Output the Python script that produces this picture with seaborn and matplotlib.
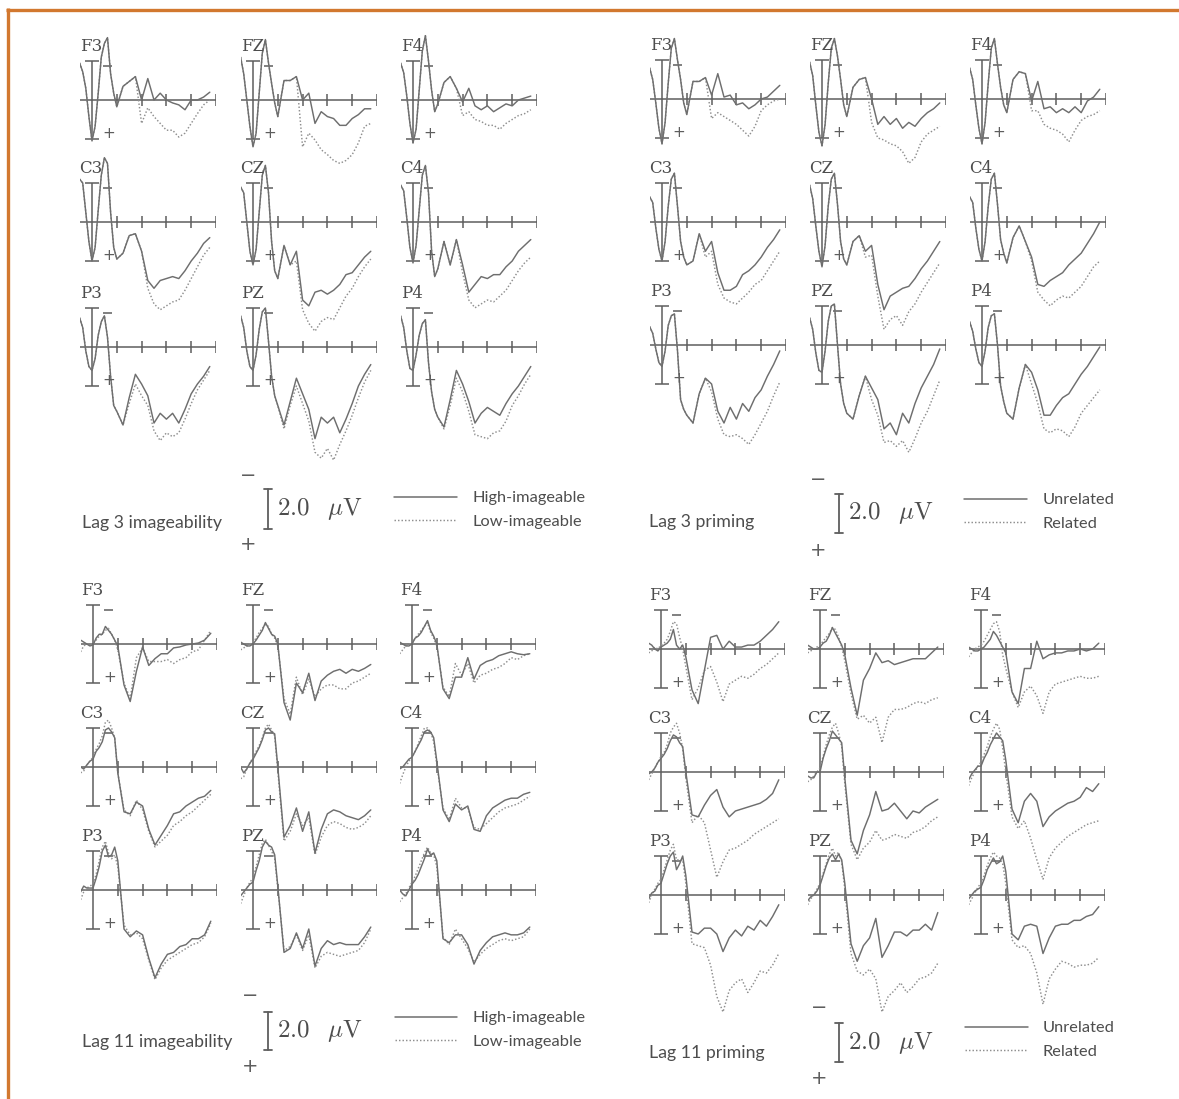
import matplotlib
matplotlib.use('Agg')
import matplotlib.pyplot as plt
import seaborn as sns

sns.set_style('white')
plt.rcParams['font.family'] = ['DejaVu Sans']
plt.rcParams['mathtext.fontset'] = 'cm'

# =====================
# Data (uV, negative plotted up), sampled at these times (ms)
# =====================
times = [-100, -75, -50, -25, 0, 25, 50, 75, 100, 125, 150, 175, 200,
         250, 300, 350, 400, 450, 500, 550, 600, 650, 700, 750, 800, 850, 900, 950]
electrodes = ['F3', 'FZ', 'F4', 'C3', 'CZ', 'C4', 'P3', 'PZ', 'P4']

lag3_img_high = {
    'F3': [-1.9, -1.45, -0.6, 0.85, 2.1, 1.35, -0.35, -2.2, -2.9, -3.2, -1.35, -0.35, 0.35,
           -0.7, -0.95, -1.2, 0.0, -1.1, 0.0, -0.35, 0.0, 0.15, 0.25, 0.5, 0.0, 0.0, -0.15, -0.4],
    'FZ': [-2.2, -1.35, 0.0, 1.35, 2.4, 1.7, -0.35, -2.4, -3.1, -1.9, -0.85, 0.15, 0.85,
           -1.0, -1.0, -1.2, 0.0, -0.35, 1.2, 0.6, 0.85, 0.95, 1.3, 1.3, 0.95, 0.75, 0.45, 0.45],
    'F4': [-1.9, -1.4, -0.2, 1.2, 2.2, 1.5, -0.5, -2.5, -3.3, -2.0, -0.5, 0.6, 0.2,
           -0.9, -1.2, -0.6, 0.1, -0.6, 0.3, 0.5, 0.3, 0.6, 0.4, 0.2, 0.3, 0.0, -0.1, -0.2],
    'C3': [-2.2, -2.0, -0.5, 1.0, 2.0, 1.3, -0.6, -2.4, -3.3, -3.0, -0.5, 1.3, 1.9,
           1.6, 0.7, 0.6, 1.5, 3.0, 3.4, 3.0, 2.9, 2.8, 2.9, 2.5, 2.0, 1.6, 1.1, 0.8],
    'CZ': [-1.8, -1.5, 0.0, 1.5, 2.2, 1.4, -0.5, -2.4, -2.9, -1.5, 1.0, 2.5, 2.9,
           1.2, 2.2, 1.5, 4.0, 4.3, 3.6, 3.5, 3.7, 3.5, 3.2, 2.7, 2.6, 2.2, 1.8, 1.5],
    'C4': [-1.9, -1.6, -0.2, 1.3, 2.1, 1.2, -0.6, -2.4, -2.9, -1.5, 1.5, 2.8, 2.4,
           1.0, 2.2, 0.9, 2.2, 3.6, 3.2, 2.8, 2.9, 2.7, 2.7, 2.3, 2.0, 1.5, 1.2, 0.9],
    'P3': [-1.5, -1.0, 0.2, 1.0, 1.2, 0.6, -0.6, -1.3, -1.6, -0.5, 1.5, 3.0, 3.3,
           4.0, 2.6, 1.4, 1.9, 2.5, 3.9, 3.4, 3.7, 3.4, 3.9, 3.2, 2.4, 1.9, 1.5, 1.0],
    'PZ': [-1.6, -1.0, 0.2, 1.0, 1.2, 0.4, -0.9, -1.8, -2.0, -0.3, 1.5, 2.5, 3.0,
           4.0, 2.8, 1.6, 2.4, 3.2, 4.7, 3.6, 3.9, 3.6, 4.4, 3.7, 2.9, 2.0, 1.4, 0.9],
    'P4': [-1.6, -1.0, 0.2, 1.1, 1.2, 0.4, -0.6, -1.2, -1.4, 0.8, 2.3, 3.2, 3.6,
           4.1, 2.7, 1.2, 1.9, 2.8, 3.9, 3.4, 3.1, 3.3, 3.5, 2.9, 2.4, 2.0, 1.5, 1.0],
}
lag3_img_low = {
    'F3': [-1.9, -1.45, -0.6, 0.85, 2.1, 1.35, -0.35, -2.2, -2.9, -3.2, -1.35, -0.35, 0.35,
           -0.7, -0.95, -1.2, 1.2, 0.4, 0.85, 1.2, 1.55, 1.55, 1.9, 1.7, 1.2, 0.7, 0.25, 0.0],
    'FZ': [-2.2, -1.35, 0.0, 1.35, 2.4, 1.7, -0.35, -2.4, -3.1, -1.9, -0.85, 0.15, 0.85,
           -1.0, -1.0, -1.2, 2.4, 1.7, 2.05, 2.55, 2.8, 3.1, 3.25, 3.1, 2.8, 2.2, 1.35, 1.2],
    'F4': [-1.9, -1.4, -0.2, 1.2, 2.2, 1.5, -0.5, -2.5, -3.3, -2.0, -0.5, 0.6, 0.2,
           -0.9, -1.2, -0.6, 0.8, 0.6, 1.0, 1.1, 1.3, 1.3, 1.5, 1.2, 1.0, 0.8, 0.7, 0.5],
    'C3': [-2.2, -2.0, -0.5, 1.0, 2.0, 1.3, -0.6, -2.4, -3.3, -3.0, -0.5, 1.3, 1.9,
           1.6, 0.7, 0.6, 1.5, 3.4, 4.2, 4.5, 4.3, 4.1, 4.0, 3.5, 2.9, 2.3, 1.7, 1.3],
    'CZ': [-1.8, -1.5, 0.0, 1.5, 2.2, 1.4, -0.5, -2.4, -2.9, -1.5, 1.0, 2.5, 2.9,
           1.2, 2.2, 2.0, 4.5, 5.2, 5.6, 5.1, 4.9, 5.0, 4.4, 3.8, 3.4, 2.8, 2.3, 1.9],
    'C4': [-1.9, -1.6, -0.2, 1.3, 2.1, 1.2, -0.6, -2.4, -2.9, -1.5, 1.5, 2.8, 2.4,
           1.0, 2.2, 0.9, 2.6, 4.0, 4.4, 4.2, 4.0, 4.1, 3.8, 3.5, 3.0, 2.5, 2.1, 1.8],
    'P3': [-1.5, -1.0, 0.2, 1.0, 1.2, 0.6, -0.6, -1.3, -1.6, -0.5, 1.5, 3.0, 3.3,
           4.0, 2.9, 1.9, 2.5, 3.0, 4.3, 4.8, 4.4, 4.6, 4.4, 3.7, 2.9, 2.2, 1.7, 1.2],
    'PZ': [-1.6, -1.0, 0.2, 1.0, 1.2, 0.4, -0.9, -1.8, -2.0, -0.3, 1.5, 2.5, 3.0,
           4.2, 3.0, 2.0, 2.9, 3.8, 5.4, 5.7, 5.2, 5.8, 5.0, 4.3, 3.5, 2.6, 1.8, 1.2],
    'P4': [-1.6, -1.0, 0.2, 1.1, 1.2, 0.4, -0.6, -1.2, -1.4, 0.8, 2.3, 3.2, 3.6,
           4.2, 3.0, 1.6, 2.3, 3.3, 4.5, 4.6, 4.7, 4.4, 4.3, 3.8, 3.0, 2.5, 1.9, 1.4],
}

lag3_prime_unrel = {
    'F3': [-1.6, -1.0, 0.2, 1.5, 2.3, 1.2, -0.8, -2.6, -3.1, -2.0, -1.0, 0.2, 0.8,
           -0.9, -0.9, -1.1, -0.2, -1.3, -0.1, -0.2, 0.3, 0.2, 0.5, 0.3, 0.0, -0.1, -0.4, -0.7],
    'FZ': [-1.9, -1.2, 0.3, 1.7, 2.4, 1.3, -0.8, -2.6, -3.1, -2.2, -1.0, 0.3, 0.9,
           -0.6, -1.0, -1.1, 0.0, 1.3, 0.9, 1.3, 1.0, 1.5, 1.2, 1.4, 1.0, 0.7, 0.5, 0.2],
    'F4': [-1.6, -1.0, 0.3, 1.5, 2.3, 1.2, -0.8, -2.6, -3.1, -1.8, -0.6, 0.3, 0.7,
           -1.0, -1.4, -1.3, 0.1, -0.9, 0.5, 0.4, 0.7, 0.5, 0.7, 0.4, 0.7, 0.1, -0.1, -0.5],
    'C3': [-1.3, -1.0, 0.3, 1.4, 2.0, 1.0, -0.8, -2.2, -2.5, -0.8, 1.0, 1.8, 2.2,
           2.0, 0.6, 1.5, 1.0, 2.6, 3.5, 3.5, 3.3, 2.7, 2.5, 2.2, 1.8, 1.3, 0.9, 0.4],
    'CZ': [-1.9, -1.2, 0.2, 1.5, 2.3, 1.2, -0.8, -2.2, -2.5, -0.9, 1.0, 1.9, 2.2,
           1.0, 0.7, 1.5, 1.2, 3.2, 4.5, 3.8, 3.6, 3.4, 3.3, 2.9, 2.4, 2.0, 1.5, 1.0],
    'C4': [-1.3, -1.0, 0.3, 1.4, 2.0, 1.0, -0.8, -2.2, -2.5, -0.9, 0.9, 1.6, 2.1,
           0.8, 0.2, 1.0, 1.8, 3.2, 3.3, 3.0, 2.8, 2.6, 2.2, 1.9, 1.6, 1.1, 0.6, 0.0],
    'P3': [-0.95, -0.6, 0.2, 0.9, 1.1, 0.3, -1.0, -1.5, -1.6, 0.3, 2.8, 3.3, 3.6,
           4.0, 2.5, 1.7, 2.0, 3.4, 4.0, 3.2, 3.8, 3.0, 3.4, 2.7, 2.3, 1.6, 1.0, 0.3],
    'PZ': [-1.4, -0.8, 0.4, 1.3, 1.4, 0.3, -1.2, -2.0, -2.1, 0.0, 2.0, 3.0, 3.5,
           3.8, 2.6, 1.6, 2.2, 2.8, 4.3, 4.0, 4.6, 3.5, 4.0, 3.0, 2.2, 1.6, 1.0, 0.2],
    'P4': [-1.2, -0.7, 0.2, 0.9, 1.1, 0.3, -0.9, -1.5, -1.6, 0.0, 2.1, 2.9, 3.5,
           3.8, 2.2, 1.0, 1.4, 2.3, 3.6, 3.6, 3.1, 2.7, 2.5, 2.0, 1.5, 1.1, 0.6, 0.1],
}
lag3_prime_rel = {
    'F3': [-1.6, -1.0, 0.2, 1.5, 2.3, 1.2, -0.8, -2.6, -3.1, -2.0, -1.0, 0.2, 0.8,
           -0.9, -0.9, -1.1, 1.0, 0.7, 0.9, 1.1, 1.3, 1.6, 1.9, 1.4, 0.6, 0.3, 0.1, 0.0],
    'FZ': [-1.9, -1.2, 0.3, 1.7, 2.4, 1.3, -0.8, -2.6, -3.1, -2.2, -1.0, 0.3, 0.9,
           -0.6, -1.0, -1.1, 1.2, 2.0, 2.1, 2.3, 2.4, 2.7, 3.3, 3.0, 2.2, 1.8, 1.6, 1.4],
    'F4': [-1.6, -1.0, 0.3, 1.5, 2.3, 1.2, -0.8, -2.6, -3.1, -1.8, -0.6, 0.3, 0.7,
           -1.0, -1.4, -1.3, 0.6, 0.6, 1.3, 1.5, 1.6, 1.8, 2.2, 1.6, 1.1, 0.9, 0.8, 0.6],
    'C3': [-1.3, -1.0, 0.3, 1.4, 2.0, 1.0, -0.8, -2.2, -2.5, -0.8, 1.0, 1.8, 2.2,
           2.0, 0.6, 1.8, 1.5, 3.2, 3.9, 4.1, 4.2, 3.9, 3.6, 3.2, 3.0, 2.5, 2.0, 1.5],
    'CZ': [-1.9, -1.2, 0.2, 1.5, 2.3, 1.2, -0.8, -2.2, -2.5, -0.9, 1.0, 1.9, 2.2,
           1.0, 0.7, 1.8, 1.7, 3.8, 5.5, 5.0, 4.8, 5.3, 4.6, 4.2, 3.6, 3.1, 2.6, 2.1],
    'C4': [-1.3, -1.0, 0.3, 1.4, 2.0, 1.0, -0.8, -2.2, -2.5, -0.9, 0.9, 1.6, 2.1,
           0.8, 0.2, 1.0, 2.0, 3.6, 4.0, 4.3, 4.0, 3.8, 3.9, 3.6, 3.3, 2.8, 2.3, 2.0],
    'P3': [-0.95, -0.6, 0.2, 0.9, 1.1, 0.3, -1.0, -1.5, -1.6, 0.3, 2.8, 3.3, 3.6,
           4.0, 2.5, 1.7, 2.4, 3.8, 4.6, 4.7, 4.6, 4.8, 5.1, 4.6, 4.0, 3.4, 2.6, 1.9],
    'PZ': [-1.4, -0.8, 0.4, 1.3, 1.4, 0.3, -1.2, -2.0, -2.1, 0.0, 2.0, 3.0, 3.5,
           3.8, 2.6, 1.6, 2.8, 3.6, 5.0, 4.9, 5.2, 4.9, 5.5, 4.8, 4.0, 3.4, 2.6, 1.8],
    'P4': [-1.2, -0.7, 0.2, 0.9, 1.1, 0.3, -0.9, -1.5, -1.6, 0.0, 2.1, 2.9, 3.5,
           3.8, 2.2, 1.0, 2.0, 3.0, 4.3, 4.5, 4.3, 4.4, 4.7, 4.2, 3.5, 3.1, 2.7, 2.3],
}

lag11_img_high = {
    'F3': [-0.2, -0.1, 0.0, 0.1, 0.05, -0.3, -0.5, -0.5, -0.9, -0.7, -0.5, -0.2, 0.1,
           2.1, 2.95, 1.4, 0.15, 1.1, 0.75, 0.5, 0.5, 0.2, 0.15, 0.05, 0.0, -0.05, -0.2, -0.55],
    'FZ': [-0.1, 0.0, 0.1, 0.1, 0.0, -0.2, -0.45, -0.7, -1.1, -0.8, -0.5, -0.4, 0.0,
           3.0, 3.9, 2.0, 2.5, 1.5, 2.9, 1.9, 1.6, 1.4, 1.3, 1.5, 1.3, 1.4, 1.25, 1.05],
    'F4': [-0.1, 0.0, 0.1, 0.1, 0.0, -0.3, -0.4, -0.6, -0.9, -1.2, -0.7, -0.4, 0.0,
           2.3, 2.8, 1.7, 1.7, 0.7, 1.8, 1.1, 0.9, 0.8, 0.6, 0.5, 0.4, 0.5, 0.55, 0.5],
    'C3': [0.0, 0.1, -0.1, -0.3, -0.4, -0.8, -1.0, -1.3, -1.9, -2.0, -1.8, -1.5, 0.3,
           2.3, 2.4, 1.8, 2.0, 3.2, 4.0, 3.5, 3.0, 2.4, 2.3, 2.0, 1.8, 1.6, 1.5, 1.2],
    'CZ': [0.0, 0.3, 0.1, -0.2, -0.4, -0.7, -1.0, -1.4, -1.9, -2.0, -1.8, -1.7, 0.0,
           3.6, 3.0, 2.1, 3.3, 2.3, 4.4, 3.2, 2.4, 2.2, 2.3, 2.5, 2.6, 2.7, 2.5, 2.2],
    'C4': [0.1, 0.0, -0.2, -0.4, -0.5, -0.8, -1.1, -1.4, -1.8, -1.9, -1.8, -1.5, -0.3,
           2.2, 2.8, 1.9, 2.2, 2.0, 3.2, 3.3, 2.5, 2.1, 1.9, 1.7, 1.6, 1.6, 1.4, 1.3],
    'P3': [0.1, -0.2, -0.1, -0.1, -0.1, -0.6, -1.2, -2.0, -2.3, -1.7, -1.8, -2.2, -1.5,
           2.0, 2.4, 2.1, 2.3, 3.5, 4.5, 3.8, 3.3, 3.2, 2.9, 2.8, 2.5, 2.5, 2.3, 1.6],
    'PZ': [0.3, 0.1, -0.1, -0.3, -0.4, -1.0, -1.5, -2.2, -2.5, -2.3, -2.2, -1.8, -0.2,
           3.2, 3.0, 2.2, 3.0, 2.0, 3.9, 3.0, 2.6, 2.8, 2.7, 2.8, 2.8, 2.8, 2.4, 1.9],
    'P4': [0.0, 0.2, 0.3, 0.0, -0.3, -0.5, -0.8, -1.2, -1.6, -2.1, -1.8, -1.9, -1.5,
           2.5, 2.7, 2.3, 2.3, 2.8, 3.8, 3.1, 2.7, 2.4, 2.3, 2.2, 2.3, 2.3, 2.2, 1.9],
}
lag11_img_low = {
    'F3': [0.4, 0.1, 0.0, 0.0, 0.0, -0.2, -0.4, -0.5, -0.7, -0.8, -0.5, -0.2, 0.3,
           2.0, 2.8, 0.7, 0.2, 0.9, 0.9, 0.9, 0.8, 1.0, 0.8, 0.7, 0.4, 0.3, -0.2, -0.7],
    'FZ': [0.3, 0.2, 0.1, 0.0, -0.1, -0.3, -0.6, -0.8, -1.0, -0.9, -0.5, -0.3, 0.1,
           2.8, 3.6, 1.7, 2.6, 1.8, 2.7, 2.3, 2.1, 2.1, 2.3, 2.3, 2.0, 1.9, 1.7, 1.5],
    'F4': [0.5, 0.3, 0.1, 0.0, 0.0, -0.3, -0.5, -0.7, -0.9, -1.1, -0.6, -0.3, 0.1,
           2.2, 2.7, 1.0, 1.6, 1.0, 2.0, 1.6, 1.5, 1.3, 1.2, 1.0, 0.7, 0.8, 0.6, 0.5],
    'C3': [0.3, 0.2, -0.1, -0.3, -0.5, -0.9, -1.2, -1.6, -2.3, -2.4, -2.0, -1.5, 0.3,
           2.2, 2.5, 1.7, 2.2, 3.3, 4.1, 3.8, 3.5, 3.0, 2.8, 2.5, 2.3, 2.0, 1.7, 1.4],
    'CZ': [0.6, 0.5, 0.1, -0.2, -0.5, -0.8, -1.1, -1.5, -2.0, -2.2, -1.9, -1.6, 0.2,
           3.8, 3.3, 2.4, 3.0, 2.6, 4.5, 3.6, 3.0, 2.8, 2.9, 3.1, 3.2, 3.1, 2.9, 2.5],
    'C4': [0.85, 0.4, 0.0, -0.3, -0.5, -0.8, -1.2, -1.6, -2.0, -2.0, -1.8, -1.3, -0.1,
           2.1, 2.7, 1.6, 2.1, 2.1, 3.1, 3.2, 2.9, 2.6, 2.3, 2.1, 2.0, 1.9, 1.7, 1.5],
    'P3': [0.5, 0.1, -0.1, -0.2, -0.3, -0.8, -1.5, -2.2, -2.5, -1.9, -1.6, -1.8, -1.2,
           1.8, 2.3, 2.2, 2.5, 3.6, 4.6, 4.0, 3.6, 3.4, 3.2, 3.0, 2.8, 2.7, 2.4, 1.7],
    'PZ': [0.7, 0.3, -0.1, -0.4, -0.6, -1.2, -1.8, -2.4, -2.6, -2.3, -2.0, -1.6, -0.1,
           3.1, 2.9, 2.3, 3.1, 2.3, 4.0, 3.4, 3.2, 3.3, 3.4, 3.3, 3.2, 3.1, 2.7, 2.0],
    'P4': [0.6, 0.4, 0.2, -0.1, -0.4, -0.7, -1.1, -1.5, -1.9, -2.2, -1.9, -1.8, -1.2,
           2.4, 2.8, 2.0, 2.5, 3.0, 3.7, 3.3, 3.0, 2.8, 2.6, 2.5, 2.6, 2.5, 2.4, 2.0],
}

lag11_prime_unrel = {
    'F3': [-0.3, -0.2, 0.0, 0.1, -0.1, -0.2, -0.3, -0.5, -1.0, -0.2, 0.0, -0.2, 0.4,
           2.1, 2.8, 1.1, -0.6, -0.7, 0.0, -0.4, -0.1, -0.1, -0.2, -0.2, -0.4, -0.7, -1.0, -1.4],
    'FZ': [-0.2, -0.1, 0.0, 0.0, -0.1, -0.3, -0.4, -0.7, -1.1, -0.8, -0.5, -0.2, 0.3,
           2.0, 3.4, 1.6, 1.0, 0.2, 0.7, 0.6, 0.8, 0.7, 0.6, 0.5, 0.5, 0.5, 0.2, -0.1],
    'F4': [-0.1, 0.0, 0.1, 0.1, 0.0, -0.1, -0.3, -0.5, -0.9, -0.7, -0.4, -0.1, 0.2,
           2.2, 2.8, 1.0, 1.0, -0.4, 0.5, 0.3, 0.2, 0.2, 0.1, 0.1, 0.0, 0.1, 0.0, -0.3],
    'C3': [0.1, 0.0, -0.2, -0.5, -0.7, -0.9, -1.2, -1.6, -1.9, -1.8, -1.5, -1.3, 0.0,
           2.2, 2.3, 1.7, 1.2, 0.9, 1.8, 2.3, 2.0, 1.9, 1.8, 1.7, 1.6, 1.4, 1.1, 0.4],
    'CZ': [0.2, 0.3, 0.3, 0.0, 0.0, -0.7, -1.2, -1.6, -2.1, -1.9, -1.7, -1.5, 0.3,
           3.5, 4.2, 3.0, 2.2, 1.0, 2.0, 1.9, 1.6, 2.0, 2.4, 2.0, 2.1, 1.8, 1.6, 1.4],
    'C4': [0.4, 0.1, -0.1, -0.3, -0.3, -0.7, -1.0, -1.4, -1.7, -2.0, -1.8, -1.6, -0.6,
           1.9, 2.6, 1.5, 1.1, 1.5, 2.8, 2.3, 2.0, 1.8, 1.6, 1.5, 1.3, 0.8, 1.0, 0.6],
    'P3': [0.2, -0.1, -0.2, -0.5, -0.6, -1.1, -1.6, -2.0, -2.2, -1.3, -1.6, -2.0, -1.0,
           1.9, 2.0, 1.7, 1.7, 2.0, 2.9, 2.2, 1.8, 2.1, 1.6, 1.8, 1.3, 1.6, 1.1, 0.5],
    'PZ': [0.3, 0.1, 0.0, -0.2, -0.5, -1.0, -1.5, -1.9, -2.1, -1.8, -2.1, -1.8, -0.6,
           2.5, 3.4, 2.6, 2.2, 1.2, 3.2, 2.6, 1.9, 1.9, 2.1, 1.8, 1.8, 1.5, 1.8, 0.9],
    'P4': [0.2, 0.0, -0.2, -0.3, -0.4, -0.8, -1.3, -1.6, -1.9, -1.6, -1.7, -2.0, -1.2,
           2.0, 2.3, 1.6, 1.5, 1.6, 3.0, 2.2, 1.6, 1.5, 1.5, 1.3, 1.3, 1.1, 1.0, 0.6],
}
lag11_prime_rel = {
    'F3': [0.2, 0.1, -0.1, 0.0, -0.2, -0.3, -0.5, -0.9, -1.4, -1.3, -0.6, 0.0, 0.9,
           2.6, 2.0, 1.1, 0.9, 1.7, 2.7, 1.8, 1.6, 1.4, 1.5, 1.3, 1.0, 0.8, 0.5, 0.2],
    'FZ': [0.2, 0.1, 0.0, -0.1, -0.2, -0.4, -0.6, -0.8, -1.1, -1.0, -0.6, -0.1, 0.6,
           2.3, 3.6, 3.4, 3.8, 3.5, 4.8, 3.5, 3.1, 3.1, 3.0, 2.8, 2.7, 2.8, 2.6, 2.5],
    'F4': [0.4, 0.2, 0.0, -0.1, -0.2, -0.4, -0.7, -1.0, -1.3, -1.4, -0.9, 0.3, 1.0,
           2.2, 3.0, 2.2, 1.9, 2.4, 3.3, 2.2, 1.8, 1.7, 1.6, 1.5, 1.4, 1.5, 1.5, 1.4],
    'C3': [0.4, 0.1, -0.2, -0.5, -0.8, -1.0, -1.4, -2.0, -2.3, -2.5, -2.0, -1.2, 0.3,
           2.6, 2.2, 2.6, 4.0, 5.4, 4.6, 4.0, 3.9, 3.7, 3.5, 3.2, 3.0, 2.8, 2.6, 2.4],
    'CZ': [0.5, 0.4, 0.2, 0.0, -0.2, -0.8, -1.4, -1.9, -2.3, -2.5, -2.0, -1.3, 0.6,
           3.7, 4.5, 3.9, 3.6, 3.0, 3.5, 3.4, 3.2, 3.3, 3.4, 3.1, 3.0, 2.8, 2.5, 2.3],
    'C4': [0.7, 0.3, 0.0, -0.3, -0.5, -0.9, -1.3, -1.8, -2.2, -2.5, -2.2, -1.2, 0.0,
           2.3, 2.9, 2.5, 3.4, 4.5, 5.5, 4.4, 3.9, 3.6, 3.3, 3.1, 2.9, 2.7, 2.6, 2.5],
    'P3': [0.4, 0.0, -0.3, -0.6, -0.8, -1.3, -1.8, -2.3, -2.6, -1.8, -1.8, -1.8, -0.6,
           2.5, 2.6, 2.7, 3.6, 5.2, 6.0, 4.9, 4.5, 4.3, 5.0, 4.5, 3.9, 4.0, 3.6, 3.0],
    'PZ': [0.5, 0.2, 0.0, -0.3, -0.6, -1.1, -1.6, -2.1, -2.4, -2.0, -2.2, -1.7, -0.3,
           3.0, 3.9, 4.1, 3.8, 4.3, 6.0, 5.2, 4.9, 4.5, 5.0, 4.7, 4.3, 4.2, 4.0, 3.5],
    'P4': [0.5, 0.2, -0.1, -0.4, -0.6, -1.0, -1.5, -1.9, -2.2, -2.0, -1.9, -1.6, -0.6,
           2.3, 2.7, 2.6, 3.0, 4.0, 5.6, 4.3, 3.8, 3.4, 3.5, 3.7, 3.6, 3.6, 3.5, 3.2],
}

# =====================
# Layout (pixels)
# =====================
W, H = 1179, 1099
PX_MS = 0.124     # px per ms
PX_UV = 19.5      # px per uV
SOLID = '#6e6e6e'
DOT = '#8f8f8f'
AXC = '#5e5e5e'
TXT = '#4d4d4d'
ORANGE = '#d2782f'

panels = [
    dict(title='Lag 3 imageability', solid=lag3_img_high, dotted=lag3_img_low,
         names=('High-imageable', 'Low-imageable'),
         cols=(92, 253, 413), rows=(100, 222, 347),
         title_xy=(82, 523), sign_x=248, minus_y=475, plus_y=545,
         bar=(268, 489, 529), leg_x=(394, 457), leg_y=(497, 520), lab_x=472),
    dict(title='Lag 3 priming', solid=lag3_prime_unrel, dotted=lag3_prime_rel,
         names=('Unrelated', 'Related'),
         cols=(662, 822, 982), rows=(99, 222, 345),
         title_xy=(649, 522), sign_x=818, minus_y=479, plus_y=551,
         bar=(839, 494, 533), leg_x=(964, 1027), leg_y=(499, 522), lab_x=1043),
    dict(title='Lag 11 imageability', solid=lag11_img_high, dotted=lag11_img_low,
         names=('High-imageable', 'Low-imageable'),
         cols=(93, 253, 412), rows=(644, 767, 890),
         title_xy=(82, 1042), sign_x=250, minus_y=996, plus_y=1067,
         bar=(268, 1012, 1050), leg_x=(395, 457), leg_y=(1017, 1040), lab_x=472),
    dict(title='Lag 11 priming', solid=lag11_prime_unrel, dotted=lag11_prime_rel,
         names=('Unrelated', 'Related'),
         cols=(661, 820, 981), rows=(649, 772, 895),
         title_xy=(649, 1053), sign_x=819, minus_y=1008, plus_y=1079,
         bar=(839, 1023, 1062), leg_x=(965, 1028), leg_y=(1027, 1050), lab_x=1043),
]

fig = plt.figure(figsize=(W / 100, H / 100), dpi=100, facecolor='white')

# overlay in pixel coordinates for border, scale bars and legends
ov = fig.add_axes([0, 0, 1, 1])
ov.set_xlim(0, W)
ov.set_ylim(H, 0)
ov.axis('off')
ov.plot([6, W], [9.5, 9.5], color=ORANGE, lw=2.4, solid_capstyle='butt')
ov.plot([7.5, 7.5], [8.3, H], color=ORANGE, lw=2.4, solid_capstyle='butt')


def erp_axes(x0, y0):
    left = x0 - 100 * PX_MS
    right = x0 + 1000 * PX_MS
    top = y0 - 4 * PX_UV
    bottom = y0 + 7 * PX_UV
    ax = fig.add_axes([left / W, 1 - bottom / H, (right - left) / W, (bottom - top) / H])
    ax.patch.set_alpha(0)
    return ax


for p in panels:
    for i, name in enumerate(electrodes):
        ax = erp_axes(p['cols'][i % 3], p['rows'][i // 3])
        kw = dict(color=AXC, lw=1.1, solid_capstyle='butt')
        ax.plot([-100, 1000], [0, 0], **kw)
        for t in (200, 400, 600, 800, 1000):
            ax.plot([t, t], [-0.32, 0.32], **kw)
        ax.plot([0, 0], [-2, 2], **kw)
        for v in (-2, 2):
            ax.plot([-55, 55], [v, v], **kw)
        ax.plot([85, 165], [-1.75, -1.75], **kw)
        ax.text(135, 1.72, '+', ha='center', va='center', fontsize=11, color=AXC)
        ax.text(-100, -2.75, name, ha='left', va='center', fontsize=12,
                family='DejaVu Serif', color=TXT)
        sns.lineplot(x=times, y=p['dotted'][name], ax=ax, color=DOT, lw=1.05,
                     linestyle=(0, (1, 1.4)))
        sns.lineplot(x=times, y=p['solid'][name], ax=ax, color=SOLID, lw=1.05)
        ax.set_xlim(-100, 1000)
        ax.set_ylim(7, -4)
        ax.axis('off')

    # caption, scale bar and legend
    tx, ty = p['title_xy']
    ov.text(tx, ty, p['title'], ha='left', va='center', fontsize=12.8,
            family='Lato', color=TXT)
    ov.text(p['sign_x'], p['minus_y'], '\u2212', ha='center', va='center',
            fontsize=14, color=AXC)
    ov.text(p['sign_x'], p['plus_y'], '+', ha='center', va='center',
            fontsize=14, color=AXC)
    bx, b1, b2 = p['bar']
    ov.plot([bx, bx], [b1, b2], color=AXC, lw=1.3)
    ov.plot([bx - 4, bx + 4], [b1, b1], color=AXC, lw=1.3)
    ov.plot([bx - 4, bx + 4], [b2, b2], color=AXC, lw=1.3)
    ov.text(bx + 9, (b1 + b2) / 2, r'$\mathrm{2.0}\;\;\;\mu\mathrm{V}$', ha='left',
            va='center', fontsize=18, color=TXT)
    lx1, lx2 = p['leg_x']
    ly1, ly2 = p['leg_y']
    ov.plot([lx1, lx2], [ly1, ly1], color=SOLID, lw=1.1)
    ov.plot([lx1, lx2], [ly2, ly2], color=DOT, lw=1.05, linestyle=(0, (1, 1.4)))
    ov.text(p['lab_x'], ly1 + 1, p['names'][0], ha='left', va='center',
            fontsize=11.8, family='Lato', color=TXT)
    ov.text(p['lab_x'], ly2 + 2, p['names'][1], ha='left', va='center',
            fontsize=11.8, family='Lato', color=TXT)

fig.savefig('out.png', dpi=100, facecolor='white')
